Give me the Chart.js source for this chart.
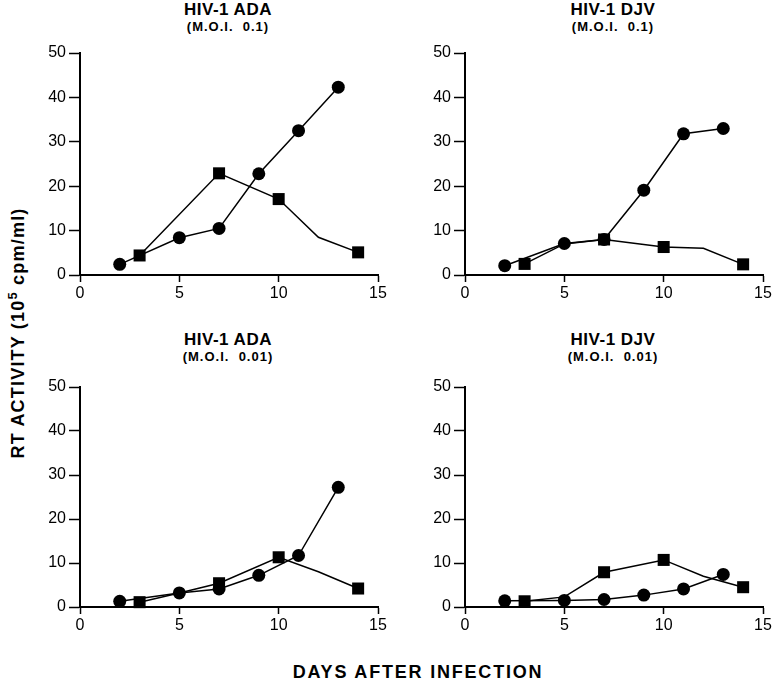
<!DOCTYPE html>
<html>
<head>
<meta charset="utf-8">
<script src="https://cdn.jsdelivr.net/npm/chart.js@4"></script>
<style>
  body { margin: 0; background: #fff; }
  #wrap { position: relative; width: 776px; height: 687px; font-family: "Liberation Sans", Arial, sans-serif; color: #000; }
  canvas { position: absolute; }
  .t1 { position: absolute; width: 240px; text-align: center; font-weight: bold; font-size: 17px; letter-spacing: 0.5px; line-height: 17px; }
  .t2 { position: absolute; width: 240px; text-align: center; font-weight: bold; font-size: 13px; letter-spacing: 1px; line-height: 13px; white-space: pre; }
  #ytitle { position: absolute; left: 17px; top: 333px; transform: translate(-50%, -50%) rotate(-90deg); white-space: nowrap; font-weight: bold; font-size: 18px; letter-spacing: 1.2px; }
  #xtitle { position: absolute; left: 418px; top: 662px; transform: translateX(-50%); white-space: nowrap; font-weight: bold; font-size: 18px; letter-spacing: 1.8px; }
</style>
</head>
<body>
<div id="wrap">
  <div class="t1" style="left:108px; top:1px;">HIV-1 ADA</div>
  <div class="t2" style="left:108px; top:20px;">(M.O.I.  0.1)</div>
  <div class="t1" style="left:493px; top:1px;">HIV-1 DJV</div>
  <div class="t2" style="left:493px; top:20px;">(M.O.I.  0.1)</div>
  <div class="t1" style="left:108px; top:331px;">HIV-1 ADA</div>
  <div class="t2" style="left:108px; top:350px;">(M.O.I.  0.01)</div>
  <div class="t1" style="left:493px; top:331px;">HIV-1 DJV</div>
  <div class="t2" style="left:493px; top:350px;">(M.O.I.  0.01)</div>
  <div id="ytitle">RT ACTIVITY (10<sup style="font-size:13px">5</sup> cpm/ml)</div>
  <div id="xtitle">DAYS AFTER INFECTION</div>
  <canvas id="c1" width="390" height="265" style="left:0px; top:40px;"></canvas>
  <canvas id="c2" width="390" height="265" style="left:385px; top:40px;"></canvas>
  <canvas id="c3" width="390" height="263" style="left:0px; top:374px;"></canvas>
  <canvas id="c4" width="390" height="263" style="left:385px; top:374px;"></canvas>
</div>
<script>
// sampling days
const circleDays = [2, 5, 7, 9, 11, 13];
const squareMarkDays = [3, 7, 10, 14];

// HIV-1 ADA, M.O.I. 0.1
const adaHighCircle = [2.4, 8.4, 10.5, 22.8, 32.5, 42.3];
const adaHighSqDays = [3, 7, 10, 12, 14];
const adaHighSquare = [4.4, 22.9, 17.1, 8.5, 5.1];

// HIV-1 DJV, M.O.I. 0.1
const djvHighCircle = [2.1, 7.1, 8.0, 19.1, 31.8, 33.0];
const djvHighSqDays = [3, 5, 7, 10, 12, 14];
const djvHighSquare = [2.5, 7.0, 8.0, 6.3, 6.0, 2.4];

// HIV-1 ADA, M.O.I. 0.01
const adaLowCircle = [1.3, 3.2, 4.1, 7.2, 11.7, 27.2];
const adaLowSqDays = [3, 5, 7, 10, 12, 14];
const adaLowSquare = [1.1, 3.2, 5.4, 11.3, 8.0, 4.2];

// HIV-1 DJV, M.O.I. 0.01
const djvLowCircle = [1.4, 1.5, 1.7, 2.7, 4.1, 7.4];
const djvLowSqDays = [3, 5, 7, 10, 12, 14];
const djvLowSquare = [1.3, 2.3, 7.9, 10.7, 7.0, 4.5];

const xTicks = [0, 5, 10, 15];
const yTicks = [0, 10, 20, 30, 40, 50];

function pares(dias, vals) {
  return dias.map((d, i) => ({ x: d, y: vals[i] }));
}

const fonteTick = { family: "'Liberation Sans', Arial, sans-serif", size: 16 };

function painel(id, circVals, sqDays, sqVals) {
  const ctx = document.getElementById(id).getContext('2d');
  return new Chart(ctx, {
    type: 'scatter',
    data: {
      datasets: [{
        data: pares(circleDays, circVals),
        showLine: true,
        borderColor: '#000',
        backgroundColor: '#000',
        borderWidth: 1.5,
        pointStyle: 'circle',
        pointRadius: 6.5,
        pointBorderWidth: 0,
        clip: false
      }, {
        data: pares(sqDays, sqVals),
        showLine: true,
        borderColor: '#000',
        backgroundColor: '#000',
        borderWidth: 1.5,
        pointStyle: 'rect',
        pointRadius: c => squareMarkDays.includes(c.raw.x) ? 8.5 : 0,
        pointBorderWidth: 0,
        clip: false
      }]
    },
    options: {
      responsive: false,
      animation: false,
      layout: { padding: { top: 13, right: 12, left: 0, bottom: 0 } },
      plugins: { legend: { display: false }, tooltip: { enabled: false } },
      scales: {
        x: {
          type: 'linear', min: 0, max: 15,
          afterBuildTicks: s => { s.ticks = xTicks.map(v => ({ value: v })); },
          afterFit: s => { s.height = 30; },
          border: { color: '#000', width: 2 },
          grid: { drawOnChartArea: false, color: '#000', tickLength: 7, tickWidth: 1.5 },
          ticks: { color: '#000', font: fonteTick, padding: 2 }
        },
        y: {
          type: 'linear', min: 0, max: 50,
          afterBuildTicks: s => { s.ticks = yTicks.map(v => ({ value: v })); },
          afterFit: s => { s.width = 80; },
          border: { color: '#000', width: 2 },
          grid: { drawOnChartArea: false, color: '#000', tickLength: 11, tickWidth: 1.5 },
          ticks: { color: '#000', font: fonteTick, padding: 3 }
        }
      }
    }
  });
}

painel('c1', adaHighCircle, adaHighSqDays, adaHighSquare);
painel('c2', djvHighCircle, djvHighSqDays, djvHighSquare);
painel('c3', adaLowCircle, adaLowSqDays, adaLowSquare);
painel('c4', djvLowCircle, djvLowSqDays, djvLowSquare);
</script>
</body>
</html>
